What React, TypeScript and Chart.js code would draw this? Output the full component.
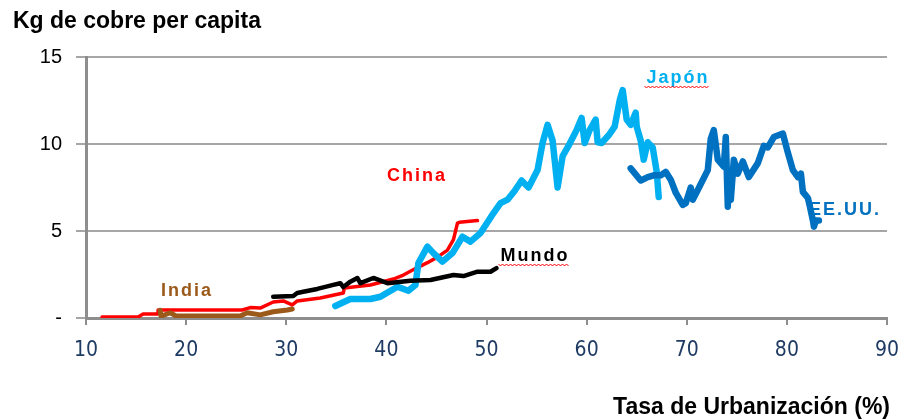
import React, { useEffect, useRef } from "react";
import { Chart, registerables } from "chart.js";

Chart.register(...registerables);

// ---------- data ----------
const xTicks = [10, 20, 30, 40, 50, 60, 70, 80, 90];
const yTicks = [0, 5, 10, 15];

const chinaX = [11.6, 15.2, 15.7, 17.2, 17.2, 25.6, 26.4, 27.4, 28.7, 29.7, 30.6, 31.1, 33.4, 35.7, 35.8, 38.4, 40.7, 41.7, 43.0, 44.1, 45.1, 46.1, 46.7, 47.1, 47.3, 49.1];
const chinaY = [0.06, 0.06, 0.23, 0.23, 0.46, 0.46, 0.6, 0.57, 0.92, 0.98, 0.75, 0.98, 1.15, 1.44, 1.72, 1.9, 2.24, 2.47, 2.87, 3.18, 3.5, 3.9, 4.5, 5.45, 5.5, 5.6];

const indiaX = [17.4, 17.5, 18.4, 19.0, 25.4, 26.1, 27.4, 28.7, 30.1, 30.6];
const indiaY = [0.45, 0.1, 0.3, 0.12, 0.12, 0.3, 0.18, 0.36, 0.46, 0.52];

const mundoX = [28.7, 30.7, 31.1, 31.7, 33.1, 34.7, 35.4, 35.7, 36.4, 37.1, 37.4, 38.7, 40.1, 42.4, 44.4, 46.7, 47.7, 49.1, 50.4, 51.0];
const mundoY = [1.22, 1.26, 1.44, 1.51, 1.67, 1.9, 2.0, 1.78, 2.09, 2.3, 2.0, 2.3, 2.0, 2.14, 2.18, 2.47, 2.41, 2.66, 2.66, 2.87];

const japonX = [34.9, 36.4, 38.4, 39.4, 41.1, 42.2, 42.9, 43.2, 44.1, 44.7, 45.6, 46.6, 47.6, 48.4, 49.4, 50.7, 51.4, 52.1, 52.8, 53.5, 54.2, 55.1, 55.6, 56.1, 56.6, 57.1, 57.6, 58.2, 59.0, 59.5, 59.8, 60.3, 60.9, 61.1, 61.5, 62.2, 62.8, 63.3, 63.6, 64.0, 64.4, 64.9, 65.0, 65.4, 65.7, 66.1, 66.6, 67.0, 67.2];
const japonY = [0.69, 1.09, 1.09, 1.22, 1.8, 1.57, 1.9, 3.16, 4.1, 3.73, 3.24, 3.73, 4.67, 4.39, 4.88, 6.03, 6.6, 6.8, 7.3, 7.9, 7.5, 8.5, 10.06, 11.1, 10.2, 7.5, 9.3, 9.9, 10.8, 11.5, 10.06, 10.8, 11.4, 10.1, 10.06, 10.5, 11.0, 12.5, 13.1, 11.4, 11.1, 11.8, 11.0, 10.2, 9.1, 10.1, 9.8, 8.4, 6.95];

const eeuuX = [64.4, 65.4, 66.1, 66.7, 67.4, 67.9, 68.4, 68.9, 69.6, 69.9, 70.4, 70.6, 71.1, 72.1, 72.4, 72.7, 73.1, 73.7, 73.9, 74.1, 74.2, 74.4, 74.7, 75.1, 75.6, 76.2, 77.1, 77.7, 78.1, 78.7, 79.6, 80.1, 80.6, 81.1, 81.4, 81.6, 82.1, 82.3, 82.6, 82.7, 82.9, 83.2];
const eeuuY = [8.6, 7.9, 8.1, 8.2, 8.2, 8.4, 7.95, 7.2, 6.5, 6.6, 7.5, 6.8, 7.36, 8.5, 10.3, 10.8, 9.1, 8.7, 10.4, 6.4, 8.1, 6.8, 9.1, 8.3, 9.0, 8.1, 8.9, 9.9, 9.8, 10.4, 10.6, 9.5, 8.5, 8.1, 8.3, 7.25, 6.9, 6.4, 5.6, 5.25, 5.6, 5.6];

const seriesLabels = ["China", "India", "Mundo", "Japón", "EE.UU."];

const pts = (xs: number[], ys: number[]) => xs.map((x, i) => ({ x, y: ys[i] }));

const labelsPlugin = {
  id: "labels",
  afterDraw(chart: any) {
    const ctx = chart.ctx as CanvasRenderingContext2D;
    ctx.save();
    ctx.fillStyle = "#000";
    ctx.font = "bold 23px 'Liberation Sans', Arial, sans-serif";
    ctx.textAlign = "left";
    ctx.textBaseline = "alphabetic";
    ctx.fillText("Kg de cobre per capita", 13, 28);
    ctx.textAlign = "right";
    ctx.fillText("Tasa de Urbanización (%)", 890, 414);

    const items = [
      { t: seriesLabels[0], x: 417, y: 174, c: "#FF0000", sq: false },
      { t: seriesLabels[1], x: 187, y: 289, c: "#9C5A1A", sq: false },
      { t: seriesLabels[2], x: 535, y: 254, c: "#000000", sq: true },
      { t: seriesLabels[3], x: 678, y: 76, c: "#00B0F0", sq: true },
      { t: seriesLabels[4], x: 845, y: 208, c: "#0070C0", sq: false },
    ];
    ctx.font = "bold 18px 'Liberation Sans', Arial, sans-serif";
    (ctx as any).letterSpacing = "2px";
    ctx.textAlign = "left";
    for (const it of items) {
      const w = ctx.measureText(it.t).width;
      const x0 = it.x - w / 2;
      ctx.fillStyle = it.c;
      ctx.fillText(it.t, x0, it.y + 6.5);
      if (it.sq) {
        ctx.strokeStyle = "#FF0000";
        ctx.lineWidth = 1;
        ctx.beginPath();
        const yb = it.y + 10;
        let k = 0;
        for (let x = x0 - 2; x <= x0 + w; x += 2) {
          const yy = yb + (k % 2 === 0 ? 0 : 2);
          if (k === 0) ctx.moveTo(x, yy);
          else ctx.lineTo(x, yy);
          k++;
        }
        ctx.stroke();
      }
    }
    ctx.restore();
  },
};

export default function App() {
  const ref = useRef<HTMLCanvasElement | null>(null);
  useEffect(() => {
    if (!ref.current) return;
    const common = { showLine: true, pointRadius: 0, tension: 0, borderJoinStyle: "round", borderCapStyle: "round", fill: false };
    const chart = new Chart(ref.current, {
      type: "scatter",
      data: {
        datasets: [
          { ...common, label: seriesLabels[0], data: pts(chinaX, chinaY), borderColor: "#FF0000", borderWidth: 3.5, order: 4 },
          { ...common, label: seriesLabels[1], data: pts(indiaX, indiaY), borderColor: "#9C5A1A", borderWidth: 5, order: 1 },
          { ...common, label: seriesLabels[2], data: pts(mundoX, mundoY), borderColor: "#000000", borderWidth: 4.5, order: 0 },
          { ...common, label: seriesLabels[3], data: pts(japonX, japonY), borderColor: "#00B0F0", borderWidth: 6.5, order: 3 },
          { ...common, label: seriesLabels[4], data: pts(eeuuX, eeuuY), borderColor: "#0070C0", borderWidth: 6.5, order: 2 },
        ] as any,
      },
      options: {
        responsive: false,
        animation: false,
        devicePixelRatio: 1,
        layout: { padding: { left: 0, top: 57, right: 36, bottom: 0 } },
        plugins: { legend: { display: false }, tooltip: { enabled: false } },
        scales: {
          x: {
            type: "linear",
            min: xTicks[0],
            max: xTicks[xTicks.length - 1],
            afterBuildTicks: (s: any) => { s.ticks = xTicks.map((v) => ({ value: v })); },
            ticks: {
              color: "#1F3B63",
              font: { family: "'Liberation Sans Narrow', 'DejaVu Sans Condensed', sans-serif", size: 21 },
              padding: 13,
              maxRotation: 0,
            },
            grid: { display: true, drawOnChartArea: false, drawTicks: true, tickLength: 7, color: "#8E8E8E", lineWidth: 2 },
            border: { display: true, color: "#8E8E8E", width: 3 },
            afterFit: (s: any) => { s.height = 101; },
          },
          y: {
            min: yTicks[0],
            max: yTicks[yTicks.length - 1],
            afterBuildTicks: (s: any) => { s.ticks = yTicks.map((v) => ({ value: v })); },
            ticks: {
              color: "#000",
              font: { family: "'Liberation Sans', Arial, sans-serif", size: 20 },
              padding: 14,
              callback: (v: any) => (v === 0 ? "-" : String(v)),
            },
            grid: { color: "#A6A6A6", lineWidth: 2, tickLength: 10 },
            border: { display: true, color: "#8E8E8E", width: 3 },
            afterFit: (s: any) => { s.width = 86; },
          },
        },
      } as any,
      plugins: [labelsPlugin],
    });
    return () => chart.destroy();
  }, []);
  return (
    <div style={{ position: "fixed", left: 0, top: 0, width: 923, height: 419, background: "#fff" }}>
      <canvas ref={ref} width={923} height={419} style={{ width: 923, height: 419, display: "block" }} />
    </div>
  );
}
